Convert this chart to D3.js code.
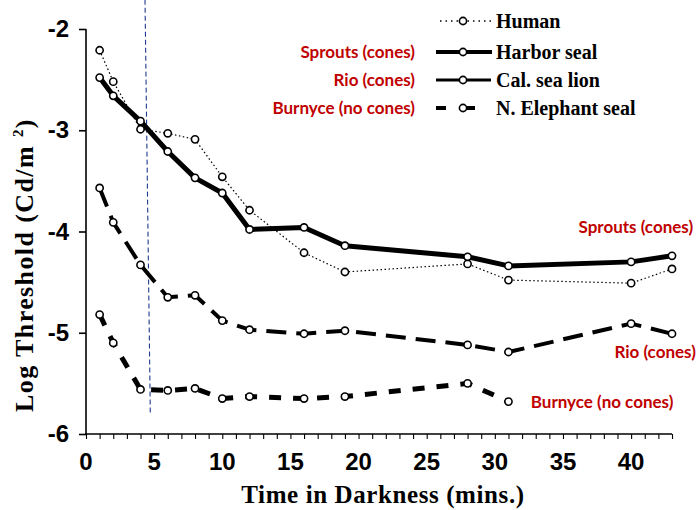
<!DOCTYPE html>
<html>
<head>
<meta charset="utf-8">
<script src="https://cdn.jsdelivr.net/npm/d3@7"></script>
<style>
  body { margin: 0; background: #fff; }
  svg { display: block; }
</style>
</head>
<body>
<svg id="chart" width="699" height="510"></svg>
<script>
// Data: time in darkness (mins) and log threshold (cd/m2)
const humanTime = [1, 2, 4, 6, 8, 10, 12, 16, 19, 28, 31, 40, 43];
const humanLevel = [-2.21, -2.52, -2.99, -3.03, -3.09, -3.46, -3.79, -4.21, -4.40, -4.32, -4.48, -4.51, -4.37];

const harborTime = [1, 2, 4, 6, 8, 10, 12, 16, 19, 28, 31, 40, 43];
const harborLevel = [-2.48, -2.66, -2.91, -3.21, -3.47, -3.62, -3.98, -3.96, -4.14, -4.25, -4.34, -4.30, -4.24];

const seaLionTime = [1, 2, 4, 6, 8, 10, 12, 16, 19, 28, 31, 40, 43];
const seaLionLevel = [-3.57, -3.91, -4.33, -4.65, -4.63, -4.88, -4.97, -5.01, -4.98, -5.12, -5.19, -4.91, -5.01];

const elephantTime = [1, 2, 4, 6, 8, 10, 12, 16, 19, 28, 31];
const elephantLevel = [-4.82, -5.10, -5.56, -5.57, -5.55, -5.65, -5.63, -5.65, -5.63, -5.50, -5.68];

// the hand drawn blue marker near 4.5 minutes (slightly slanted)
const markerTime = [4.33, 4.72];
const markerLevel = [-1.71, -5.81];

const xTicks = [0, 5, 10, 15, 20, 25, 30, 35, 40];
const yTicks = [-2, -3, -4, -5, -6];

const legendNames = ['Human', 'Harbor seal', 'Cal. sea lion', 'N. Elephant seal'];
const animalNames = ['', 'Sprouts (cones)', 'Rio (cones)', 'Burnyce (no cones)'];

// where the red names sit at the right end of the curves (right edge, in data units)
const endLabelTime = [44.55, 44.75, 43.1];
const endLabelLevel = [-3.96, -5.19, -5.68];

// Reused constants
const red = '#C00000';
const serif = '"Liberation Serif", "DejaVu Serif", serif';
const sans = '"Liberation Sans", Arial, sans-serif';
const redFont = 'Lato, "Open Sans", sans-serif';

const svg = d3.select('#chart');

const x = d3.scaleLinear().domain([0, 43]).range([86, 672]);
const y = d3.scaleLinear().domain([-6, -2]).range([434, 29]);

// Axes
const xAxis = svg.append('g')
  .attr('transform', `translate(0,${y(-6)})`)
  .call(d3.axisBottom(x).tickValues(d3.range(0, 44)).tickSize(5).tickFormat(''));
xAxis.select('.domain').attr('stroke-width', 1.6).attr('d', `M${x(0) - 1},0H${x(43)}`);
xAxis.selectAll('.tick line').attr('stroke-width', 1.1);

svg.append('g')
  .selectAll('text')
  .data(xTicks)
  .join('text')
  .attr('x', d => x(d))
  .attr('y', 470)
  .attr('text-anchor', 'middle')
  .style('font-family', sans)
  .style('font-weight', 'bold')
  .style('font-size', '24px')
  .text(d => d);

const yAxis = svg.append('g')
  .attr('transform', `translate(${x(0)},0)`)
  .call(d3.axisLeft(y).tickValues(yTicks).tickSize(7).tickFormat(''));
yAxis.select('.domain').attr('stroke-width', 1.6).attr('d', `M0,${y(-2)}V${y(-6)}`);
yAxis.selectAll('.tick line').attr('stroke-width', 1.6);

svg.append('g')
  .selectAll('text')
  .data(yTicks)
  .join('text')
  .attr('x', 69)
  .attr('y', d => y(d) + 8)
  .attr('text-anchor', 'end')
  .style('font-family', sans)
  .style('font-weight', 'bold')
  .style('font-size', '24px')
  .text(d => d);

// Axis titles
svg.append('text')
  .attr('x', 383)
  .attr('y', 503)
  .attr('text-anchor', 'middle')
  .style('font-family', serif)
  .style('font-weight', 'bold')
  .style('font-size', '25px')
  .style('letter-spacing', '0.6px')
  .text('Time in Darkness (mins.)');

const yTitle = svg.append('text')
  .attr('transform', 'translate(33,265) rotate(-90)')
  .attr('text-anchor', 'middle')
  .style('font-family', serif)
  .style('font-weight', 'bold')
  .style('font-size', '26px')
  .style('letter-spacing', '1.4px');
yTitle.append('tspan').text('Log Threshold (Cd/m ');
yTitle.append('tspan').attr('dy', -10).style('font-size', '15px').text('2');
yTitle.append('tspan').attr('dy', 10).text(')');

// Blue marker line
svg.append('line')
  .attr('x1', x(markerTime[0]))
  .attr('y1', y(markerLevel[0]))
  .attr('x2', x(markerTime[1]))
  .attr('y2', y(markerLevel[1]))
  .attr('stroke', '#1d3c8f')
  .attr('stroke-width', 1.1)
  .attr('stroke-dasharray', '5,3');

// Series and their line styles
const series = [
  { t: elephantTime, v: elephantLevel, w: 5, dash: '12,12' },
  { t: seaLionTime, v: seaLionLevel, w: 4, dash: '20,10' },
  { t: humanTime, v: humanLevel, w: 1.2, dash: '1.5,2.5' },
  { t: harborTime, v: harborLevel, w: 5, dash: null },
];

const line = d3.line()
  .x(d => x(d[0]))
  .y(d => y(d[1]));

series.forEach(s => {
  const pts = s.t.map((t, i) => [t, s.v[i]]);
  svg.append('path')
    .datum(pts)
    .attr('d', line)
    .attr('fill', 'none')
    .attr('stroke', '#000')
    .attr('stroke-width', s.w)
    .attr('stroke-linejoin', 'round')
    .attr('stroke-dasharray', s.dash);
});

// Circles go on top so they hide the lines underneath
series.forEach(s => {
  svg.append('g')
    .selectAll('circle')
    .data(s.t.map((t, i) => [t, s.v[i]]))
    .join('circle')
    .attr('cx', d => x(d[0]))
    .attr('cy', d => y(d[1]))
    .attr('r', 3.6)
    .attr('fill', '#fff')
    .attr('stroke', '#000')
    .attr('stroke-width', 1.6);
});

// Legend
const legendY = [21, 52, 80, 108];
const lg = svg.append('g');

lg.append('line').attr('x1', 440).attr('x2', 492).attr('y1', legendY[0]).attr('y2', legendY[0])
  .attr('stroke', '#000').attr('stroke-width', 1.3).attr('stroke-dasharray', '1.5,4');
lg.append('line').attr('x1', 436).attr('x2', 492).attr('y1', legendY[1]).attr('y2', legendY[1])
  .attr('stroke', '#000').attr('stroke-width', 4);
lg.append('line').attr('x1', 436).attr('x2', 491).attr('y1', legendY[2]).attr('y2', legendY[2])
  .attr('stroke', '#000').attr('stroke-width', 3);
lg.append('line').attr('x1', 436).attr('x2', 446).attr('y1', legendY[3]).attr('y2', legendY[3])
  .attr('stroke', '#000').attr('stroke-width', 4);
lg.append('line').attr('x1', 463).attr('x2', 475).attr('y1', legendY[3]).attr('y2', legendY[3])
  .attr('stroke', '#000').attr('stroke-width', 4);

lg.selectAll('circle')
  .data(legendY)
  .join('circle')
  .attr('cx', 463)
  .attr('cy', d => d)
  .attr('r', 3.6)
  .attr('fill', '#fff')
  .attr('stroke', '#000')
  .attr('stroke-width', 1.6);

lg.selectAll('text.name')
  .data(legendNames)
  .join('text')
  .classed('name', true)
  .attr('x', 496)
  .attr('y', (d, i) => legendY[i] + 7)
  .style('font-family', serif)
  .style('font-weight', 'bold')
  .style('font-size', '20px')
  .text(d => d);

// Red animal names next to the legend
lg.selectAll('text.animal')
  .data(animalNames)
  .join('text')
  .classed('animal', true)
  .attr('x', 415)
  .attr('y', (d, i) => legendY[i])
  .attr('dy', '0.35em')
  .attr('text-anchor', 'end')
  .style('font-family', redFont)
  .style('font-weight', 'bold')
  .style('font-size', '17px')
  .style('fill', red)
  .text(d => d);

// Red animal names at the end of the curves
svg.append('g')
  .selectAll('text')
  .data(animalNames.slice(1))
  .join('text')
  .attr('x', (d, i) => x(endLabelTime[i]))
  .attr('y', (d, i) => y(endLabelLevel[i]))
  .attr('dy', '0.35em')
  .attr('text-anchor', 'end')
  .style('font-family', redFont)
  .style('font-weight', 'bold')
  .style('font-size', '17px')
  .style('fill', red)
  .text(d => d);
</script>
</body>
</html>
